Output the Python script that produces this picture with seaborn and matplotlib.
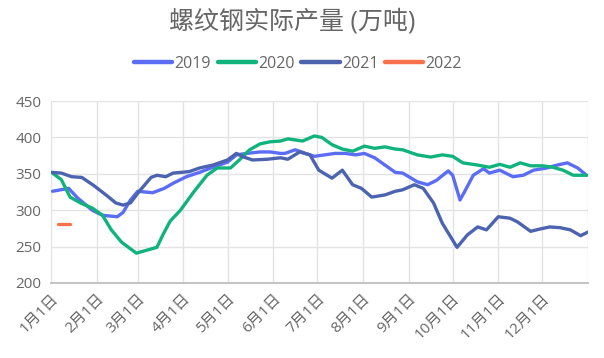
import matplotlib
matplotlib.use("Agg")
import matplotlib.pyplot as plt
import seaborn as sns
import pandas as pd

# day-of-year / value readings for each year
days_2019 = [1, 12, 18, 28, 35, 45, 49, 54, 59, 69, 77, 83, 92, 101, 110, 120, 126, 133, 142, 149, 156, 159, 166, 173,
             179, 186, 193, 200, 207, 213, 220, 227, 234, 239, 249, 256, 262, 270, 273, 278, 281, 287, 294, 298, 305,
             314, 321, 328, 337, 344, 351, 358, 364]
vals_2019 = [326, 330, 317, 300, 293, 291, 297, 314, 326, 324, 330, 337, 346, 352, 359, 366, 376, 378, 380, 380, 378,
             378, 383, 378, 374, 376, 378, 378, 376, 378, 372, 362, 352, 351, 339, 335, 341, 354, 348, 314, 325, 348,
             357, 351, 355, 346, 348, 355, 358, 362, 365, 358, 348]

days_2020 = [1, 7, 13, 20, 28, 35, 41, 48, 58, 65, 72, 76, 81, 88, 97, 106, 113, 122, 128, 135, 142, 149, 156, 161,
             171, 179, 184, 191, 198, 205, 213, 220, 227, 234, 239, 249, 258, 266, 273, 280, 290, 298, 305, 312, 319,
             326, 334, 341, 348, 355, 364]
vals_2020 = [351, 342, 318, 310, 303, 293, 273, 256, 241, 245, 249, 266, 285, 300, 325, 348, 358, 358, 369, 383, 391,
             394, 395, 398, 395, 402, 400, 390, 384, 381, 388, 385, 387, 384, 383, 376, 373, 376, 374, 365, 362, 359,
             363, 359, 365, 361, 361, 359, 355, 348, 348]

days_2021 = [0, 7, 14, 21, 29, 38, 44, 49, 54, 60, 68, 72, 78, 83, 94, 101, 110, 120, 126, 131, 137, 147, 156, 161,
             169, 176, 182, 191, 198, 205, 211, 218, 227, 234, 239, 247, 253, 260, 266, 276, 283, 290, 296, 304, 312,
             317, 326, 332, 339, 346, 353, 360, 365]
vals_2021 = [352, 351, 346, 345, 334, 320, 310, 307, 310, 326, 345, 348, 346, 351, 353, 358, 362, 369, 378, 373, 369,
             370, 372, 370, 380, 376, 355, 344, 355, 335, 330, 318, 321, 326, 328, 335, 330, 310, 282, 249, 266, 277,
             273, 291, 289, 284, 271, 274, 277, 276, 273, 265, 270]

days_2022 = [5, 13]
vals_2022 = [281, 281]

years = ["2019", "2020", "2021", "2022"]
colors = ["#5B6CF5", "#11B37C", "#4C63B0", "#F7714C"]

month_days = [0, 31, 59, 90, 120, 151, 181, 212, 243, 273, 304, 334, 365]
month_labels = ["1月1日", "2月1日", "3月1日", "4月1日", "5月1日", "6月1日", "7月1日",
                "8月1日", "9月1日", "10月1日", "11月1日", "12月1日", ""]

frames = []
for y, d, v in zip(years, [days_2019, days_2020, days_2021, days_2022],
                   [vals_2019, vals_2020, vals_2021, vals_2022]):
    frames.append(pd.DataFrame({"day": d, "value": v, "year": y}))
df = pd.concat(frames, ignore_index=True)

sns.set_theme(style="white")
plt.rcParams["font.family"] = ["Open Sans", "Noto Sans CJK SC", "DejaVu Sans"]

fig = plt.figure(figsize=(6.04, 3.58), dpi=100)
ax = fig.add_axes([51 / 604, 1 - 283 / 358, 537 / 604, 182 / 358])

sns.lineplot(data=df, x="day", y="value", hue="year", palette=colors, sort=False,
             linewidth=2.4, ax=ax, legend=True)
for ln in ax.lines:
    ln.set_solid_capstyle("round")
    ln.set_solid_joinstyle("round")

ax.set_xlim(0, 365)
ax.set_ylim(200, 450)
ax.set_yticks([200, 250, 300, 350, 400, 450])
ax.set_xticks(month_days)
ax.set_xticklabels(month_labels, rotation=45, ha="right", rotation_mode="anchor")
ax.grid(True, color="#e3e3e3", linewidth=1)
ax.set_axisbelow(True)
for s in ["top", "right", "left"]:
    ax.spines[s].set_visible(False)
ax.spines["bottom"].set_color("#bbbbbb")
ax.tick_params(axis="x", length=4, color="#bbbbbb", labelsize=11, labelcolor="#666666", pad=2)
ax.tick_params(axis="y", length=0, labelsize=11, labelcolor="#666666", pad=7)
ax.set_xlabel("")
ax.set_ylabel("")

handles, labels = ax.get_legend_handles_labels()
for h in handles:
    h.set_linewidth(3.2)
ax.legend(handles, labels, loc="center", bbox_to_anchor=(298 / 604, 1 - 64 / 358),
          bbox_transform=fig.transFigure, ncol=4, frameon=False, fontsize=11.5,
          handlelength=2.4, handletextpad=0.15, columnspacing=0.4, labelcolor="#666666")

fig.text(292 / 604, 1 - 22 / 358, "螺纹钢实际产量 (万吨)", ha="center", va="center",
         fontsize=18, color="#666666")

fig.savefig("out.png", dpi=100)
